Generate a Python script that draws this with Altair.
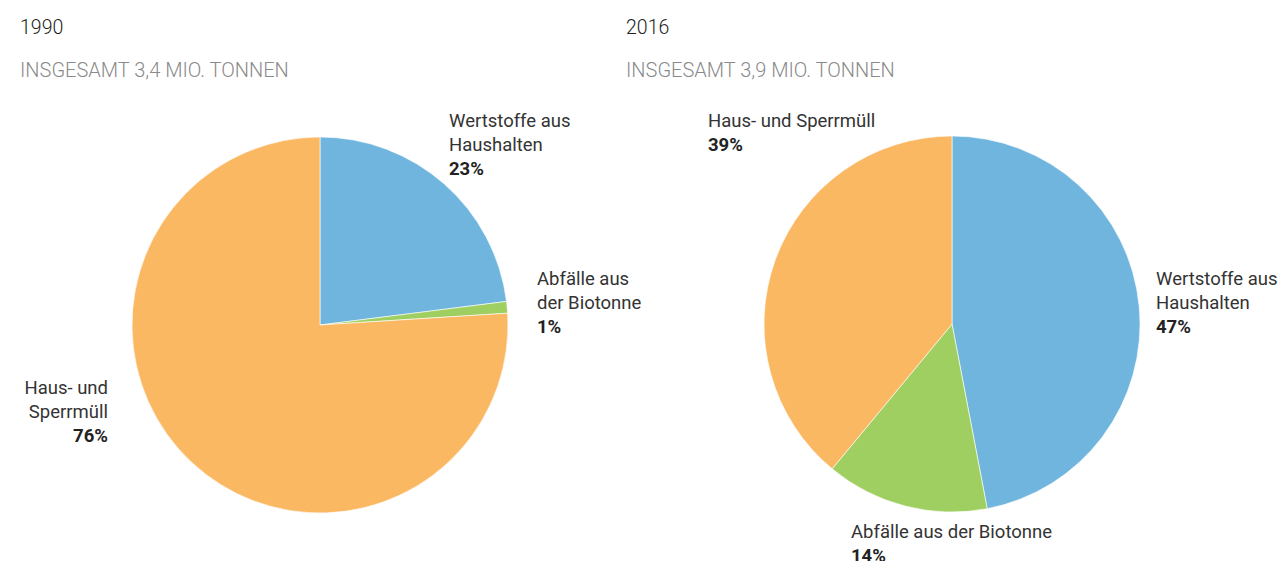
import altair as alt
import pandas as pd

categories = ["Wertstoffe aus Haushalten", "Abfälle aus der Biotonne", "Haus- und Sperrmüll"]
share_1990 = [23, 1, 76]
share_2016 = [47, 14, 39]
years = ["1990", "2016"]
totals = ["INSGESAMT 3,4 MIO. TONNEN", "INSGESAMT 3,9 MIO. TONNEN"]
colors = ["#6fb5de", "#9fcf60", "#fbb863"]

rows = []
for yr, vals in zip(years, [share_1990, share_2016]):
    for i, (c, v) in enumerate(zip(categories, vals)):
        rows.append(dict(year=yr, cat=c, share=v, order=i, pct=f"{v}%"))
df = pd.DataFrame(rows)

# layout (chart coordinates)
W, H = 1271, 553
R = 188
centers = {"1990": (312, 317), "2016": (944, 316)}
title_x = {"1990": 12, "2016": 618}
LH = 24
# label text lines and anchor per (year, category)
label_layout = {
    ("1990", categories[0]): ("Wertstoffe aus\nHaushalten", 441, 119, "left"),
    ("1990", categories[1]): ("Abfälle aus\nder Biotonne", 529, 277, "left"),
    ("1990", categories[2]): ("Haus- und\nSperrmüll", 100, 386, "right"),
    ("2016", categories[0]): ("Wertstoffe aus\nHaushalten", 1148, 277, "left"),
    ("2016", categories[1]): ("Abfälle aus der Biotonne", 843, 530, "left"),
    ("2016", categories[2]): ("Haus- und Sperrmüll", 700, 119, "left"),
}

LABEL_FONT = "Roboto"
LABEL_SIZE = 18.5
layers = []
for yr, total in zip(years, totals):
    cx, cy = centers[yr]
    layers.append(
        alt.Chart(df).transform_filter(alt.datum.year == yr)
        .mark_arc(radius=R, stroke="white", strokeWidth=0.6)
        .encode(
            theta=alt.Theta("share:Q", stack=True),
            color=alt.Color("cat:N", scale=alt.Scale(domain=categories, range=colors), legend=None),
            order=alt.Order("order:Q"),
            x=alt.value(cx), y=alt.value(cy),
        )
    )
    tdf = pd.DataFrame({"t": [yr], "s": [total]})
    layers.append(
        alt.Chart(tdf).mark_text(align="left", baseline="alphabetic", font="Roboto",
                                 fontWeight=300, fontSize=19.5, color="#222")
        .encode(text="t:N", x=alt.value(title_x[yr]), y=alt.value(26))
    )
    layers.append(
        alt.Chart(tdf).mark_text(align="left", baseline="alphabetic", font="Roboto",
                                 fontWeight=300, fontSize=20, color="#8a8a8a")
        .encode(text="s:N", x=alt.value(title_x[yr]), y=alt.value(69))
    )
    for cat in categories:
        txt, lx, ly, al = label_layout[(yr, cat)]
        n = txt.count("\n") + 1
        ldf = pd.DataFrame({"name": [txt]})
        layers.append(
            alt.Chart(ldf).mark_text(align=al, baseline="alphabetic", font=LABEL_FONT,
                                     fontSize=LABEL_SIZE, color="#333", lineBreak="\n", lineHeight=LH)
            .encode(text="name:N", x=alt.value(lx), y=alt.value(ly))
        )
        layers.append(
            alt.Chart(df).transform_filter((alt.datum.year == yr) & (alt.datum.cat == cat))
            .mark_text(align=al, baseline="alphabetic", font=LABEL_FONT,
                       fontSize=LABEL_SIZE, fontWeight="bold", color="#222")
            .encode(text="pct:N", x=alt.value(lx), y=alt.value(ly + n * LH))
        )

chart = (
    alt.layer(*layers)
    .properties(width=W, height=H, autosize=alt.AutoSizeParams(type="none"), padding=0)
    .configure_view(stroke=None)
)
chart.save("out.html", embed_options={"renderer": "svg", "actions": False})
